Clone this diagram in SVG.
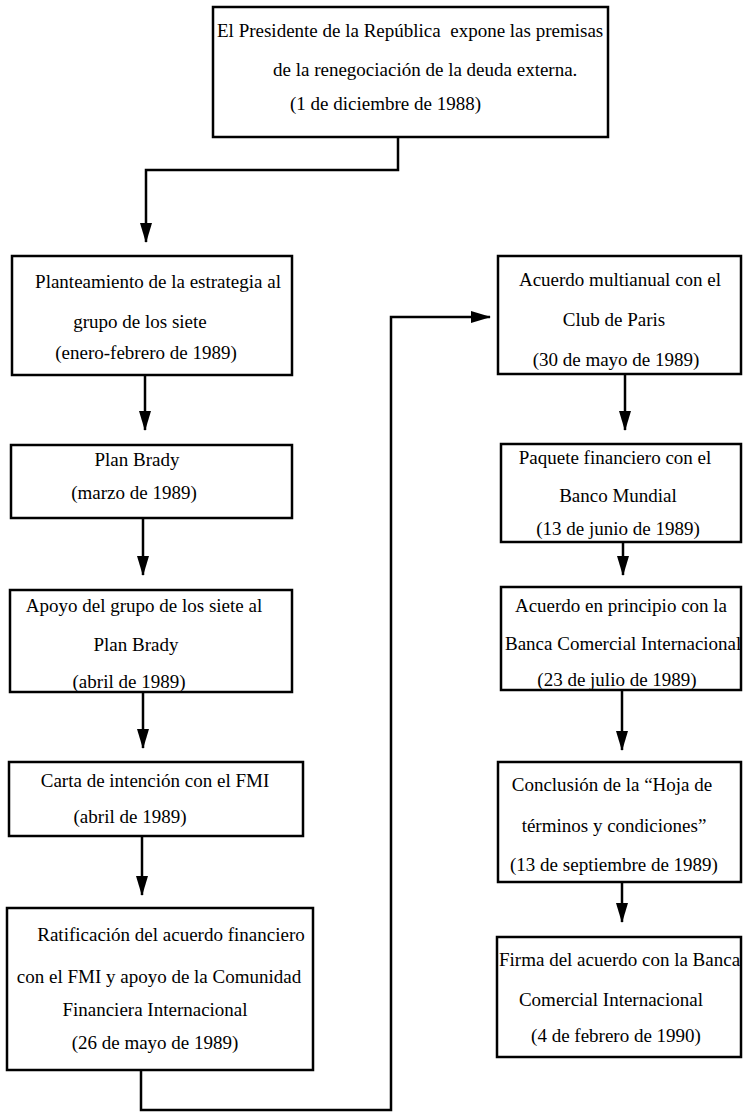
<svg xmlns="http://www.w3.org/2000/svg" width="743" height="1113" viewBox="0 0 743 1113">
<style>
.box{fill:#fff;stroke:#000;stroke-width:2.5}
.t{font-family:"Liberation Serif","Times New Roman",serif;font-size:19px;fill:#000}
.m{text-anchor:middle}
.c{fill:none;stroke:#000;stroke-width:2.5}
</style>
<defs>
<marker id="ah" markerUnits="userSpaceOnUse" markerWidth="20" markerHeight="12" viewBox="0 0 20 12" refX="19" refY="6" orient="auto">
<path d="M0,0 L20,6 L0,12 z" fill="#000"/>
</marker>
</defs>
<rect width="743" height="1113" fill="#fff"/>
<g id="connectors">
<path class="c" d="M398,137 V170 H146 V242" marker-end="url(#ah)"/>
<path class="c" d="M145,375 V430" marker-end="url(#ah)"/>
<path class="c" d="M143,518 V575" marker-end="url(#ah)"/>
<path class="c" d="M143,692 V748" marker-end="url(#ah)"/>
<path class="c" d="M142,836 V895" marker-end="url(#ah)"/>
<path class="c" d="M141,1070 V1110 H391 V317 H490" marker-end="url(#ah)"/>
<path class="c" d="M625,374 V430" marker-end="url(#ah)"/>
<path class="c" d="M623,542 V575" marker-end="url(#ah)"/>
<path class="c" d="M622,690 V750" marker-end="url(#ah)"/>
<path class="c" d="M622,882 V922" marker-end="url(#ah)"/>
</g>
<g id="n0">
<rect class="box" x="213" y="7" width="395" height="130"/>
<text class="t" x="217" y="37" xml:space="preserve">El Presidente de la República  expone las premisas</text>
<text class="t" x="273" y="76">de la renegociación de la deuda externa.</text>
<text class="t" x="290" y="110">(1 de diciembre de 1988)</text>
</g>
<g id="n1">
<rect class="box" x="12" y="256" width="280" height="119"/>
<text class="t m" x="158" y="288">Planteamiento de la estrategia al</text>
<text class="t m" x="140" y="328">grupo de los siete</text>
<text class="t m" x="146" y="359">(enero-febrero de 1989)</text>
</g>
<g id="n2">
<rect class="box" x="11" y="445" width="281" height="73"/>
<text class="t m" x="137" y="466">Plan Brady</text>
<text class="t m" x="134" y="499">(marzo de 1989)</text>
</g>
<g id="n3">
<rect class="box" x="10" y="590" width="282" height="102"/>
<text class="t m" x="144" y="612">Apoyo del grupo de los siete al</text>
<text class="t m" x="136" y="651">Plan Brady</text>
<text class="t m" x="129" y="688">(abril de 1989)</text>
</g>
<g id="n4">
<rect class="box" x="9" y="762" width="294" height="74"/>
<text class="t m" x="155" y="787">Carta de intención con el FMI</text>
<text class="t m" x="130" y="823">(abril de 1989)</text>
</g>
<g id="n5">
<rect class="box" x="7" y="908" width="306" height="162"/>
<text class="t m" x="171" y="941">Ratificación del acuerdo financiero</text>
<text class="t m" x="159" y="983">con el FMI y apoyo de la Comunidad</text>
<text class="t m" x="155" y="1016">Financiera Internacional</text>
<text class="t m" x="155" y="1049">(26 de mayo de 1989)</text>
</g>
<g id="n6">
<rect class="box" x="498" y="256" width="243" height="118"/>
<text class="t m" x="620" y="286">Acuerdo multianual con el</text>
<text class="t m" x="614" y="326">Club de Paris</text>
<text class="t m" x="616" y="366">(30 de mayo de 1989)</text>
</g>
<g id="n7">
<rect class="box" x="501" y="444" width="240" height="98"/>
<text class="t m" x="615" y="464">Paquete financiero con el</text>
<text class="t m" x="618" y="502">Banco Mundial</text>
<text class="t m" x="618" y="535">(13 de junio de 1989)</text>
</g>
<g id="n8">
<rect class="box" x="501" y="587" width="240" height="103"/>
<text class="t m" x="621" y="612">Acuerdo en principio con la</text>
<text class="t" x="505" y="650">Banca Comercial Internacional</text>
<text class="t m" x="617" y="686">(23 de julio de 1989)</text>
</g>
<g id="n9">
<rect class="box" x="498" y="762" width="243" height="120"/>
<text class="t m" x="612" y="791">Conclusión de la “Hoja de</text>
<text class="t m" x="614" y="832">términos y condiciones”</text>
<text class="t m" x="614" y="871">(13 de septiembre de 1989)</text>
</g>
<g id="n10">
<rect class="box" x="497" y="937" width="244" height="120"/>
<text class="t" x="499" y="966">Firma del acuerdo con la Banca</text>
<text class="t m" x="611" y="1006">Comercial Internacional</text>
<text class="t m" x="616" y="1042">(4 de febrero de 1990)</text>
</g>
</svg>
